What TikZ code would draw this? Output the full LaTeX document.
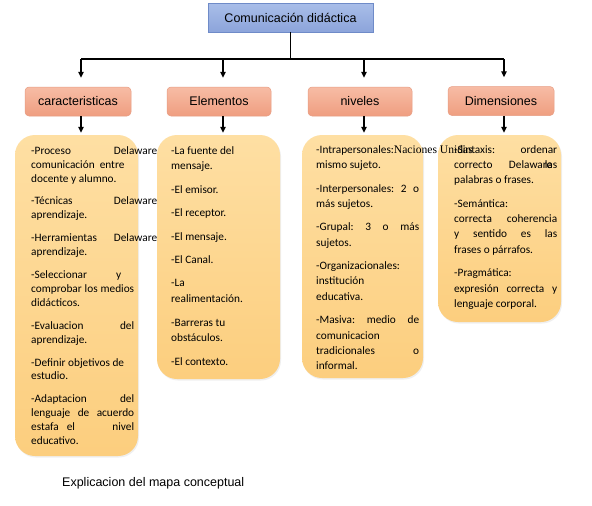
\documentclass[tikz,border=0pt]{standalone}
\usepackage{fontspec}
\setmainfont{Carlito}
\newfontfamily\arialf{Liberation Sans}
\newfontfamily\timesf{Liberation Serif}
\usetikzlibrary{arrows.meta,shadows}
\definecolor{topA}{HTML}{A9BEE9}
\definecolor{topB}{HTML}{8CA4DA}
\definecolor{topD}{HTML}{6F8BC8}
\definecolor{hdA}{HTML}{F7BCA5}
\definecolor{hdB}{HTML}{EF9E80}
\definecolor{hdD}{HTML}{E79D83}
\definecolor{ylA}{HTML}{FEDFA3}
\definecolor{ylB}{HTML}{FCCE7E}
\newcommand{\J}[1]{\hbox to 103pt{#1}}
\tikzset{
  topbox/.style={draw=topD, line width=0.6pt, top color=topA, bottom color=topB,
    minimum width=165pt, minimum height=29pt, inner sep=0pt,
    font=\arialf\fontsize{12.5}{14}\selectfont},
  headbox/.style={draw=hdD, line width=0.5pt, top color=hdA, bottom color=hdB,
    rounded corners=4pt, minimum height=29pt, inner sep=0pt,
    font=\arialf\fontsize{12.5}{14}\selectfont},
  yelbox/.style={top color=ylA, bottom color=ylB, rounded corners=20pt,
    inner sep=0pt, drop shadow={opacity=0.12, shadow xshift=1pt, shadow yshift=-1.5pt}},
  bodytext/.style={anchor=north west, inner sep=0pt, align=left},
  conn/.style={line width=1.3pt, black},
  arr/.style={conn, -{Triangle[length=6pt,width=5.5pt]}},
}
\begin{document}
\begin{tikzpicture}[x=1pt,y=-1pt]
\useasboundingbox[fill=white] (0,0) rectangle (592,506);

% top node
\node[topbox] (top) at (290.5,17.5) {Comunicación didáctica};

% headers
\node[headbox, minimum width=106pt] (h1) at (78,101.5) {caracteristicas};
\node[headbox, minimum width=104pt] (h2) at (219,101.5) {Elementos};
\node[headbox, minimum width=104pt] (h3) at (360,101.5) {niveles};
\node[headbox, minimum width=106pt] (h4) at (501,101) {Dimensiones};

% yellow boxes
\node[yelbox, minimum width=123pt, minimum height=321pt] (y1) at (76.5,295.5) {};
\node[yelbox, minimum width=123pt, minimum height=244pt] (y2) at (218.5,257) {};
\node[yelbox, minimum width=121pt, minimum height=243pt] (y3) at (362.5,256.5) {};
\node[yelbox, minimum width=123pt, minimum height=187pt] (y4) at (499.5,228.5) {};

% bus
\coordinate (bus) at (top.south |- 0,59);
\coordinate (b1) at (81,59);
\coordinate (b2) at (223,59);
\coordinate (b3) at (364,59);
\coordinate (b4) at (504,59);
\draw[conn] (top.south) -- (bus);
\draw[conn] (b1) -- (b4);
\draw[arr, shorten >=9pt] (b1) -- (b1 |- h1.north);
\draw[arr, shorten >=9pt] (b2) -- (b2 |- h2.north);
\draw[arr, shorten >=9pt] (b3) -- (b3 |- h3.north);
\draw[arr, shorten >=9pt] (b4) -- (b4 |- h4.north);
\draw[arr, shorten >=2pt] (b1 |- h1.south) -- (b1 |- y1.north);
\draw[arr, shorten >=2pt] (b2 |- h2.south) -- (b2 |- y2.north);
\draw[arr, shorten >=2pt] (b3 |- h3.south) -- (b3 |- y3.north);
\draw[arr, shorten >=2pt] (b4 |- h4.south) -- (b4 |- y4.north);

% texts
\node[bodytext, font=\fontsize{11.3}{13.9}\selectfont] (t1) at (31,144) {%
\rule{0pt}{10pt}\hbox to 126pt{-Proceso\hfill Delaware}\\
comunicación\ \ entre\\
docente y alumno.\\[9pt]
\hbox to 126pt{-Técnicas\hfill Delaware}\\
aprendizaje.\\[9pt]
\hbox to 126pt{-Herramientas\hfill Delaware}\\
aprendizaje.\\[9pt]
\hbox to 90pt{-Seleccionar\hfill y}\\
\J{comprobar\hfill los\hfill medios}\\
didácticos.\\[9pt]
\J{-Evaluacion\hfill del}\\
aprendizaje.\\[9pt]
-Definir objetivos de\\
estudio.\\[9pt]
\J{-Adaptacion\hfill del}\\
\J{lenguaje\hfill de\hfill acuerdo}\\
\J{estafa\hspace{8pt}el\hfill nivel}\\
educativo.};

\node[bodytext, font=\fontsize{11.3}{15.7}\selectfont] (t2) at (171,144) {%
\rule{0pt}{10pt}-La fuente del\\
mensaje.\\[7.7pt]
-El emisor.\\[7.7pt]
-El receptor.\\[7.7pt]
-El mensaje.\\[7.7pt]
-El Canal.\\[7.7pt]
-La\\
realimentación.\\[7.7pt]
-Barreras tu\\
obstáculos.\\[7.7pt]
-El contexto.};

\node[bodytext, font=\fontsize{11.3}{15.3}\selectfont] (t3) at (316,143) {%
\rule{0pt}{10pt}\hbox to 103pt{-Intrapersonales:{\timesf\fontsize{11.6}{15.3}\selectfont Naciones Unidas}\hss}\\
mismo sujeto.\\[8.2pt]
\J{-Interpersonales:\hfill 2\hfill o}\\
más sujetos.\\[8.2pt]
\J{-Grupal:\hfill 3\hfill o\hfill más}\\
sujetos.\\[8.2pt]
-Organizacionales:\\
institución\\
educativa.\\[8.2pt]
\J{-Masiva:\hfill medio\hfill de}\\
comunicacion\\
\J{tradicionales\hfill o}\\
informal.};

\node[bodytext, font=\fontsize{11.3}{15.2}\selectfont] (t4) at (454,143) {%
\rule{0pt}{10pt}\J{-Sintaxis:\hfill ordenar}\\
\J{correcto\hfill Delaware\kern-7.5pt las}\\
palabras o frases.\\[8.6pt]
-Semántica:\\
\J{correcta\hfill coherencia}\\
\J{y\hfill sentido\hfill es\hfill las}\\
frases o párrafos.\\[8.6pt]
-Pragmática:\\
\J{expresión\hfill correcta\hfill y}\\
lenguaje corporal.};

% caption
\node[anchor=base west, inner sep=0pt, font=\arialf\fontsize{12.5}{14}\selectfont] (cap) at (62,486) {Explicacion del mapa conceptual};
\end{tikzpicture}
\end{document}
